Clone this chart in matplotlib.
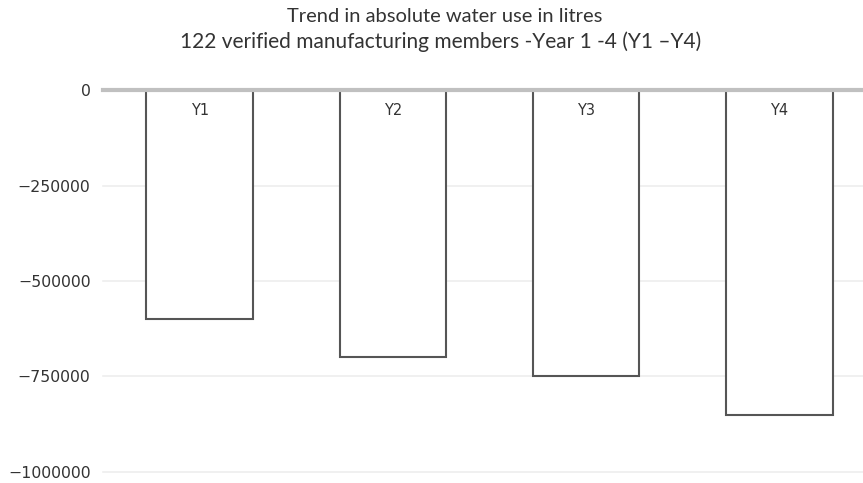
import matplotlib.pyplot as plt

years = ['Y1', 'Y2', 'Y3', 'Y4']
water_change = [-600000, -700000, -750000, -850000]
yticks = [0, -250000, -500000, -750000, -1000000]
ytick_labels = ['0', '\u2212250000', '\u2212500000', '\u2212750000', '\u22121000000']

fig = plt.figure(figsize=(8.63, 4.83), dpi=100)
ax = fig.add_axes([103 / 863, 11 / 483, 773 / 863, 382 / 483])

x = range(len(years))
ax.bar(x, water_change, width=0.55, color='white', edgecolor='#555555', linewidth=1.5, zorder=3)
for i, lab in enumerate(years):
    ax.text(i, -54000, lab, ha='center', va='center', fontsize=10.5, color='#333333', zorder=4)

ax.set_xlim(-0.5, 3.5)
ax.set_ylim(-1000000, 0)
ax.set_yticks(yticks)
ax.set_yticklabels(ytick_labels)
ax.tick_params(axis='y', length=0, pad=9, labelsize=11.3, labelcolor='#333333')
ax.set_xticks([])
for s in ax.spines.values():
    s.set_visible(False)
for v in yticks[1:]:
    ax.axhline(v, color='#eeeeee', lw=1.2, zorder=1, clip_on=False)
ax.axhline(0, color='#c0c0c0', lw=3, zorder=5, clip_on=False)

# two-line title, centred a bit left of the axes
fig.text(445 / 863, 1 - 17 / 483, 'Trend in absolute water use in litres', ha='center', va='center',
         fontsize=14.5, family='Lato', color='#333333')
fig.text(441 / 863, 1 - 42 / 483, '122 verified manufacturing members -Year 1 -4 (Y1 \u2013Y4)', ha='center',
         va='center', fontsize=15, family='Lato', color='#333333')

fig.savefig('out.png', dpi=100)
